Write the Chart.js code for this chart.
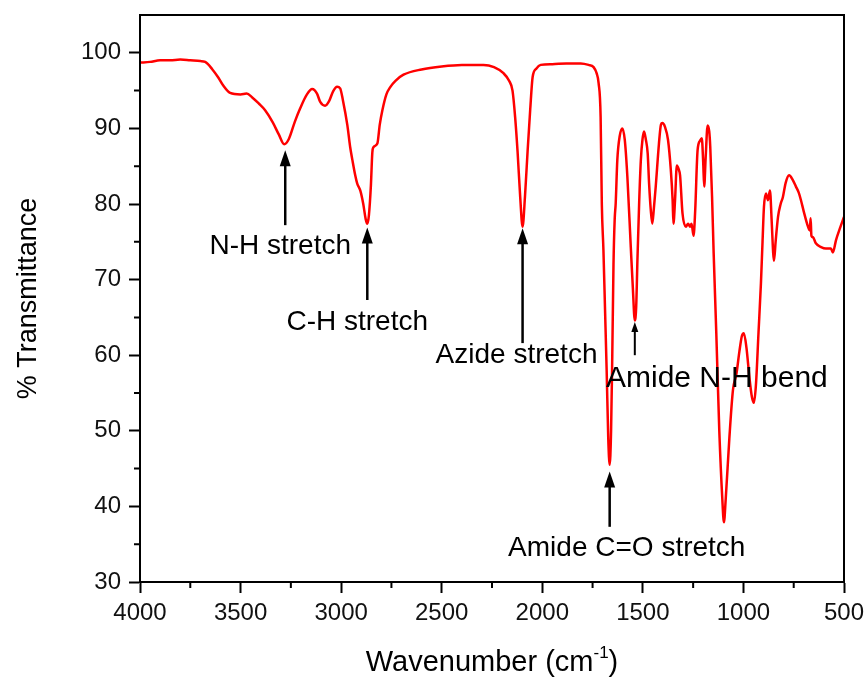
<!DOCTYPE html>
<html>
<head>
<meta charset="utf-8">
<script src="https://cdn.jsdelivr.net/npm/chart.js@4.4.0/dist/chart.umd.min.js"></script>
<style>
  body { margin: 0; background: #fff; }
</style>
</head>
<body>
<canvas id="irChart" width="868" height="677"></canvas>
<script>
// FTIR spectrum
const wavenumber = [
  4000, 3950, 3900, 3850, 3800, 3750, 3700, 3676, 3640, 3610, 3587, 3552, 3500, 3470, 3442,
  3410, 3378, 3340, 3310, 3283, 3260, 3230, 3203, 3170, 3144, 3120, 3104, 3080, 3060, 3040,
  3020, 3005, 2991, 2969, 2955, 2944, 2930, 2920, 2905, 2890, 2878, 2870, 2862, 2852, 2845,
  2840, 2820, 2808, 2795, 2775, 2755, 2730, 2690, 2600, 2500, 2400, 2292, 2240, 2193, 2165,
  2148, 2135, 2123, 2110, 2098, 2086, 2073, 2060, 2048, 2030, 2008, 1950, 1880, 1809, 1770,
  1745, 1730, 1720, 1710, 1704, 1696, 1688, 1680, 1672, 1665, 1658, 1652, 1646, 1640, 1635,
  1627, 1615, 1602, 1590, 1577, 1560, 1550, 1540, 1533, 1527, 1518, 1510, 1502, 1494, 1485,
  1476, 1469, 1460, 1453, 1445, 1436, 1420, 1410, 1403, 1390, 1375, 1361, 1352, 1348, 1340,
  1331, 1322, 1315, 1303, 1286, 1275, 1265, 1258, 1248, 1240, 1228, 1215, 1207, 1200, 1195,
  1188, 1178, 1170, 1165, 1156, 1148, 1135, 1120, 1105, 1097, 1088, 1070, 1052, 1035, 1020,
  1008, 998, 985, 970, 958, 948, 938, 925, 913, 905, 898, 888, 878, 868, 860,
  852, 848, 840, 828, 815, 804, 790, 773, 755, 739, 725, 714, 700, 679, 670,
  666, 662, 654, 640, 614, 590, 565, 555, 540, 520, 500
];
const transmittance = [
  98.7, 98.8, 99.0, 99.0, 99.1, 99.0, 98.9, 98.8, 97.8, 96.7, 95.7, 94.7, 94.5, 94.6, 94.1,
  93.3, 92.4, 90.8, 89.2, 87.9, 88.6, 90.9, 92.7, 94.5, 95.2, 94.6, 93.5, 93.0, 93.6, 94.9,
  95.5, 95.3, 93.7, 90.4, 87.5, 85.8, 83.8, 82.7, 81.8, 80.0, 78.0, 77.4, 78.5, 82.5, 86.8,
  87.5, 88.0, 90.5, 92.4, 94.5, 95.5, 96.3, 97.1, 97.8, 98.2, 98.4, 98.4, 98.1, 97.3, 96.3,
  95.0, 91.5, 87.0, 81.0, 77.0, 81.0, 87.0, 92.5, 96.8, 97.9, 98.4, 98.5, 98.6, 98.6, 98.4,
  98.1, 97.3, 96.0, 91.5, 80.0, 73.9, 66.0, 58.0, 49.0, 45.5, 50.0, 60.0, 72.0, 78.0, 80.1,
  85.8, 89.0, 90.0, 88.5, 83.6, 74.3, 69.0, 64.6, 66.5, 72.6, 80.5, 85.8, 88.5, 89.6, 88.5,
  86.7, 82.7, 79.0, 77.4, 79.5, 82.3, 88.0, 90.5, 90.7, 90.2, 88.5, 84.5, 80.5, 77.4, 80.5,
  85.1, 84.6, 83.8, 78.8, 77.0, 77.4, 77.0, 77.4, 75.8, 79.0, 87.1, 88.4, 88.7, 85.5, 82.3,
  86.0, 90.4, 89.6, 87.6, 81.0, 73.5, 63.0, 50.0, 41.0, 37.9, 41.0, 49.0, 55.4, 57.5, 60.5,
  62.5, 62.9, 61.0, 57.0, 54.5, 53.7, 56.0, 63.0, 69.5, 75.0, 79.6, 81.4, 80.5, 81.8, 78.0,
  73.5, 72.5, 75.0, 78.3, 80.0, 80.9, 82.8, 83.8, 83.2, 82.3, 81.5, 80.5, 79.0, 77.0, 76.5,
  78.1, 75.8, 75.6, 74.8, 74.3, 74.1, 74.1, 73.6, 75.2, 76.8, 78.3
];
const xTicks = [4000, 3500, 3000, 2500, 2000, 1500, 1000, 500];
const yTicks = [30, 40, 50, 60, 70, 80, 90, 100];

// band labels: text, arrow wavenumber, arrow tail / tip, text anchor
const bandLabels = ['N-H stretch', 'C-H stretch', 'Azide stretch', 'Amide N-H bend', 'Amide C=O stretch'];
const bandArrowX = [3278, 2870, 2098, 1540, 1665];
const bandArrowFrom = [77.2, 67.3, 61.6, 60.0, 37.3];
const bandArrowTo = [87.1, 76.9, 76.8, 64.4, 44.6];
const bandTextX = [3303, 2920, 2128, 1132, 1580];
const bandTextY = [73.4, 63.3, 59.0, 55.8, 33.4];

const xTitle = 'Wavenumber (cm';
const xTitleSup = '-1';
const yTitle = '% Transmittance';

const FONT = '"Liberation Sans", Arial, sans-serif';

const ctx = document.getElementById('irChart');

const data = {
  datasets: [{
    label: 'FTIR',
    data: wavenumber.map((w, i) => ({ x: w, y: transmittance[i] })),
    borderColor: '#ff0000',
    borderWidth: 2.5,
    pointRadius: 0,
    cubicInterpolationMode: 'monotone',
    fill: false
  }]
};

const extras = {
  id: 'extras',
  afterDraw(chart) {
    const c = chart.ctx;
    const a = chart.chartArea;
    const xs = chart.scales.x;
    const ys = chart.scales.y;
    c.save();
    c.strokeStyle = '#000';
    c.lineWidth = 2;
    c.strokeRect(a.left, a.top, a.right - a.left, a.bottom - a.top);

    // minor ticks
    c.beginPath();
    for (let i = 0; i < xTicks.length - 1; i++) {
      const px = xs.getPixelForValue((xTicks[i] + xTicks[i + 1]) / 2);
      c.moveTo(px, a.bottom);
      c.lineTo(px, a.bottom + 6);
    }
    for (let i = 0; i < yTicks.length - 1; i++) {
      const py = ys.getPixelForValue((yTicks[i] + yTicks[i + 1]) / 2);
      c.moveTo(a.left, py);
      c.lineTo(a.left - 6, py);
    }
    c.stroke();

    // arrows and labels
    c.fillStyle = '#000';
    c.textAlign = 'center';
    c.textBaseline = 'alphabetic';
    bandLabels.forEach((txt, i) => {
      const x = xs.getPixelForValue(bandArrowX[i]);
      const y0 = ys.getPixelForValue(bandArrowFrom[i]);
      const y1 = ys.getPixelForValue(bandArrowTo[i]);
      const small = i === 3;
      const hl = small ? 10 : 16;
      const hw = small ? 3.5 : 5.5;
      c.lineWidth = small ? 2 : 2.5;
      c.beginPath();
      c.moveTo(x, y0);
      c.lineTo(x, y1 + hl - 2);
      c.stroke();
      c.beginPath();
      c.moveTo(x, y1);
      c.lineTo(x - hw, y1 + hl);
      c.lineTo(x + hw, y1 + hl);
      c.closePath();
      c.fill();
      c.font = (small ? '30px ' : '28px ') + FONT;
      c.fillText(txt, xs.getPixelForValue(bandTextX[i]), ys.getPixelForValue(bandTextY[i]));
    });

    // axis titles
    c.font = '29px ' + FONT;
    c.textAlign = 'left';
    const mainW = c.measureText(xTitle).width;
    c.font = '17px ' + FONT;
    const supW = c.measureText(xTitleSup).width;
    c.font = '29px ' + FONT;
    const closeW = c.measureText(')').width;
    const total = mainW + supW + closeW;
    const cx = (a.left + a.right) / 2;
    let tx = cx - total / 2;
    const base = 671;
    c.fillText(xTitle, tx, base);
    c.font = '17px ' + FONT;
    c.fillText(xTitleSup, tx + mainW, base - 13);
    c.font = '29px ' + FONT;
    c.fillText(')', tx + mainW + supW, base);

    c.translate(36, (a.top + a.bottom) / 2);
    c.rotate(-Math.PI / 2);
    c.textAlign = 'center';
    c.font = '27px ' + FONT;
    c.fillText(yTitle, 0, 0);
    c.restore();
  }
};

const config = {
  type: 'line',
  data,
  options: {
    responsive: false,
    animation: false,
    layout: { padding: { left: 0, right: 24, top: 15, bottom: 0 } },
    plugins: {
      legend: { display: false },
      tooltip: { enabled: false }
    },
    scales: {
      x: {
        type: 'linear',
        reverse: true,
        min: 500,
        max: 4000,
        afterFit(scale) {
          scale.height = 95;
          scale.paddingLeft = 0;
          scale.paddingRight = 0;
        },
        ticks: {
          stepSize: 500,
          padding: 6,
          color: '#111',
          font: { family: FONT, size: 24 },
          maxRotation: 0,
          callback: v => String(v)
        },
        grid: {
          drawOnChartArea: false,
          tickLength: 11,
          tickWidth: 2,
          tickColor: '#000'
        },
        border: { display: true, color: '#000', width: 2 }
      },
      y: {
        min: 30,
        max: 105,
        afterFit(scale) {
          scale.width = 140;
          scale.paddingTop = 0;
          scale.paddingBottom = 0;
        },
        afterBuildTicks(scale) {
          scale.ticks = scale.ticks.filter(t => yTicks.includes(t.value));
        },
        ticks: {
          stepSize: 10,
          padding: 8,
          color: '#111',
          font: { family: FONT, size: 24 },
          callback: v => String(v)
        },
        grid: {
          drawOnChartArea: false,
          tickLength: 11,
          tickWidth: 2,
          tickColor: '#000'
        },
        border: { display: true, color: '#000', width: 2 }
      }
    }
  },
  plugins: [extras]
};

let myChart = new Chart(ctx, config);
</script>
</body>
</html>
